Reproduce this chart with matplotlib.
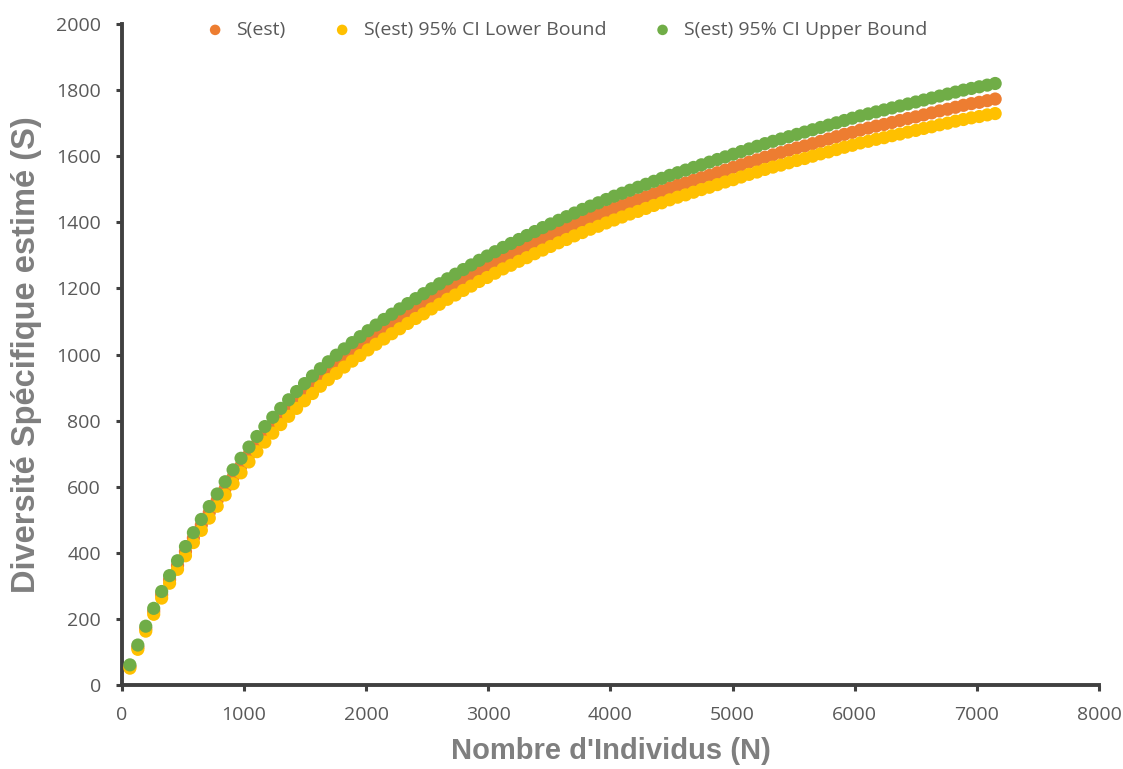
import matplotlib
matplotlib.use("Agg")
from matplotlib import pyplot as plt

# taille d'échantillon (nombre d'individus)
n_individus = [65, 130, 195, 260, 325, 390, 455, 520, 585, 650,
               715, 780, 845, 910, 975, 1040, 1105, 1170, 1235, 1300,
               1365, 1430, 1495, 1560, 1625, 1690, 1755, 1820, 1885, 1950,
               2015, 2080, 2145, 2210, 2275, 2340, 2405, 2470, 2535, 2600,
               2665, 2730, 2795, 2860, 2925, 2990, 3055, 3120, 3185, 3250,
               3315, 3380, 3445, 3510, 3575, 3640, 3705, 3770, 3835, 3900,
               3965, 4030, 4095, 4160, 4225, 4290, 4355, 4420, 4485, 4550,
               4615, 4680, 4745, 4810, 4875, 4940, 5005, 5070, 5135, 5200,
               5265, 5330, 5395, 5460, 5525, 5590, 5655, 5720, 5785, 5850,
               5915, 5980, 6045, 6110, 6175, 6240, 6305, 6370, 6435, 6500,
               6565, 6630, 6695, 6760, 6825, 6890, 6955, 7020, 7085, 7150]

s_est = [56, 114, 170, 223, 273, 319, 362, 404, 445, 484,
         522, 559, 594, 629, 663, 697, 728, 758, 785, 812,
         837, 861, 885, 907, 929, 950, 969, 988, 1007, 1024,
         1042, 1059, 1075, 1091, 1107, 1123, 1138, 1152, 1167, 1182,
         1197, 1210, 1224, 1238, 1252, 1264, 1277, 1290, 1302, 1314,
         1325, 1337, 1349, 1360, 1371, 1381, 1392, 1403, 1413, 1422,
         1432, 1442, 1451, 1460, 1468, 1477, 1486, 1495, 1504, 1512,
         1519, 1527, 1535, 1542, 1550, 1558, 1566, 1574, 1582, 1589,
         1597, 1604, 1611, 1618, 1625, 1631, 1638, 1645, 1652, 1659,
         1666, 1672, 1679, 1685, 1691, 1696, 1702, 1708, 1714, 1719,
         1725, 1731, 1737, 1742, 1748, 1754, 1759, 1763, 1768, 1773]

s_lower = [51, 108, 163, 214, 263, 308, 350, 391, 431, 468,
           505, 541, 575, 609, 642, 675, 706, 735, 762, 788,
           813, 837, 860, 882, 904, 924, 943, 962, 980, 997,
           1014, 1031, 1047, 1063, 1078, 1094, 1109, 1123, 1138, 1152,
           1167, 1180, 1194, 1207, 1221, 1233, 1246, 1259, 1270, 1282,
           1293, 1305, 1316, 1327, 1338, 1348, 1359, 1369, 1379, 1388,
           1398, 1407, 1416, 1425, 1433, 1442, 1451, 1459, 1468, 1476,
           1483, 1491, 1499, 1506, 1514, 1522, 1529, 1537, 1545, 1552,
           1560, 1567, 1573, 1580, 1587, 1593, 1600, 1607, 1613, 1620,
           1627, 1633, 1640, 1645, 1651, 1656, 1662, 1667, 1673, 1678,
           1684, 1689, 1695, 1700, 1706, 1711, 1716, 1720, 1725, 1729]

s_upper = [61, 121, 178, 232, 283, 331, 376, 419, 461, 501,
           540, 578, 615, 651, 686, 720, 752, 782, 810, 837,
           863, 888, 912, 935, 957, 978, 998, 1017, 1036, 1054,
           1072, 1089, 1106, 1122, 1138, 1154, 1169, 1184, 1199, 1214,
           1229, 1243, 1257, 1271, 1285, 1298, 1311, 1324, 1336, 1348,
           1360, 1372, 1384, 1395, 1406, 1417, 1428, 1439, 1449, 1459,
           1469, 1479, 1488, 1497, 1506, 1515, 1524, 1533, 1542, 1550,
           1558, 1566, 1574, 1582, 1590, 1598, 1606, 1614, 1622, 1630,
           1638, 1645, 1652, 1659, 1666, 1673, 1680, 1687, 1694, 1701,
           1708, 1715, 1722, 1728, 1734, 1740, 1746, 1752, 1758, 1764,
           1770, 1776, 1782, 1788, 1794, 1800, 1805, 1810, 1815, 1820]

series = [
    ("S(est)", s_est, "#ED7D31"),
    ("S(est) 95% CI Lower Bound", s_lower, "#FFC000"),
    ("S(est) 95% CI Upper Bound", s_upper, "#70AD47"),
]

x_ticks = [0, 1000, 2000, 3000, 4000, 5000, 6000, 7000, 8000]
y_ticks = [0, 200, 400, 600, 800, 1000, 1200, 1400, 1600, 1800, 2000]

spine_grey = "#404040"
tick_grey = "#595959"
label_grey = "#7F7F7F"

fig = plt.figure(figsize=(11.23, 7.69), dpi=100)
ax = fig.add_axes([0.1086, 0.1092, 0.8700, 0.8596])

for name, values, colour in series:
    ax.scatter(n_individus, values, s=90, color=colour, edgecolors="none",
               label=name, zorder=3)

ax.set_xlim(0, 8000)
ax.set_ylim(0, 2000)
ax.set_xticks(x_ticks)
ax.set_yticks(y_ticks)

for side in ["top", "right"]:
    ax.spines[side].set_visible(False)
for side in ["left", "bottom"]:
    ax.spines[side].set_color(spine_grey)
    ax.spines[side].set_linewidth(2.8)

ax.tick_params(axis="both", colors=spine_grey, length=4, width=2.2,
               labelsize=14, labelcolor=tick_grey, pad=11)
for lab in ax.get_xticklabels() + ax.get_yticklabels():
    lab.set_fontfamily("Open Sans")

ax.set_xlabel("Nombre d'Individus (N)", fontsize=21, fontweight="bold",
              color=label_grey, family="Liberation Sans")
ax.set_ylabel("Diversité Spécifique estimé (S)", fontsize=23.5, fontweight="bold",
              color=label_grey, family="Liberation Sans")
ax.xaxis.set_label_coords(0.5, -0.078)
ax.yaxis.set_label_coords(-0.082, 0.5)

leg = fig.legend(loc="center", bbox_to_anchor=(0.5, 0.961), ncol=3,
                 frameon=False, fontsize=14, markerscale=0.8,
                 handletextpad=0.1, columnspacing=1.9, borderaxespad=0.0)
for txt in leg.get_texts():
    txt.set_color(tick_grey)
    txt.set_fontfamily("Open Sans")

fig.savefig("out.png", dpi=100, facecolor="white")
